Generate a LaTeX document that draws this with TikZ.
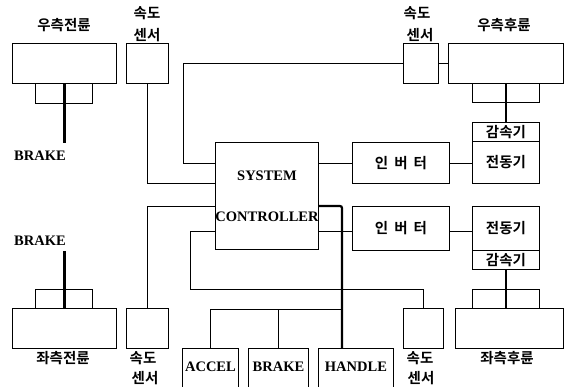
\documentclass[tikz,border=0pt]{standalone}
\usepackage{fontspec}
\setmainfont{Liberation Serif}
\newfontfamily\kr{Noto Sans CJK KR Black}
\usepackage{tikz}
\usetikzlibrary{positioning,calc}
\newcommand{\krt}[1]{{\kr\fontsize{14.5}{16}\selectfont #1}}

\begin{document}
\begin{tikzpicture}[
  x=1pt, y=-1pt,
  font=\bfseries\fontsize{14.5}{16}\selectfont,
  blk/.style={draw, line width=0.9pt, inner sep=0pt, anchor=north west},
  wire/.style={line width=0.9pt},
  shaft/.style={line width=2.6pt},
  lbl/.style={inner sep=0pt}
]
\clip (0,0) rectangle (569,387);
\fill[white] (0,0) rectangle (569,387);

% wheels, hubs, sensors
\node[blk, minimum width=57pt, minimum height=20pt] (hrf) at (35,83) {};
\node[blk, fill=white, minimum width=104pt, minimum height=40pt] (wrf) at (12,43) {};
\node[blk, minimum width=42pt, minimum height=40pt] (srf) at (126,43) {};
\node[blk, minimum width=57pt, minimum height=19pt] (hfl) at (35,289) {};
\node[blk, fill=white, minimum width=104pt, minimum height=40pt] (wfl) at (12,308) {};
\node[blk, minimum width=42pt, minimum height=40pt] (sfl) at (126,308) {};

\node[blk, minimum width=35pt, minimum height=40pt] (srr) at (403,43) {};
\node[blk, minimum width=67pt, minimum height=19pt] (hrr) at (472,83) {};
\node[blk, fill=white, minimum width=115pt, minimum height=40pt] (wrr) at (448,43) {};
\node[blk, minimum width=40pt, minimum height=40pt] (srl) at (403,308) {};
\node[blk, minimum width=67pt, minimum height=19pt] (hrl) at (472,289) {};
\node[blk, fill=white, minimum width=108pt, minimum height=40pt] (wrl) at (455,308) {};

% reducers and motors
\node[blk, minimum width=67pt, minimum height=19pt] (red1) at (472,122) {\krt{감속기}};
\node[blk, minimum width=67pt, minimum height=42pt] (mot1) at (472,141) {\krt{전동기}};
\node[blk, minimum width=67pt, minimum height=44pt] (mot2) at (472,206) {\krt{전동기}};
\node[blk, minimum width=67pt, minimum height=19pt] (red2) at (472,250) {\krt{감속기}};

% controller and inverters
\node[blk, minimum width=103pt, minimum height=107pt, align=center] (ctl) at (215,142) {SYSTEM\\[25pt]CONTROLLER};
\node[blk, minimum width=97pt, minimum height=41pt] (inv1) at (352,142) {\krt{인\hspace{6pt}버\hspace{6pt}터}};
\node[blk, minimum width=97pt, minimum height=44pt] (inv2) at (352,206) {\krt{인\hspace{6pt}버\hspace{6pt}터}};

% inputs
\node[blk, minimum width=56pt, minimum height=60pt] (accel) at (182,348) {};
\node[blk, minimum width=60pt, minimum height=60pt] (brk) at (248,348) {};
\node[blk, minimum width=75pt, minimum height=60pt] (hdl) at (318,348) {};
\node[lbl, anchor=north] at (accel.north) [yshift=-14pt] {ACCEL};
\node[lbl, anchor=north] at (brk.north) [yshift=-14pt] {BRAKE};
\node[lbl, anchor=north] at (hdl.north) [yshift=-14pt] {HANDLE};

% labels
\node[lbl] (tfl) at (64,25) {\krt{우측전륜}};
\node[lbl] at (147,13) {\krt{속도}};
\node[lbl] at (147,35) {\krt{센서}};
\node[lbl] at (417,13) {\krt{속도}};
\node[lbl] at (420,35) {\krt{센서}};
\node[lbl] at (504,25) {\krt{우측후륜}};
\node[lbl] at (63,358) {\krt{좌측전륜}};
\node[lbl] at (143,358) {\krt{속도}};
\node[lbl] at (145,378) {\krt{센서}};
\node[lbl] at (420,358) {\krt{속도}};
\node[lbl] at (421,378) {\krt{센서}};
\node[lbl] at (507,358) {\krt{좌측후륜}};
\node[lbl] (bkf) at (40,156) {BRAKE};
\node[lbl] (bkl) at (40,241) {BRAKE};

% shafts
\draw[shaft] (wrf.south) -- ++(0,59);
\draw[shaft] (wfl.north) -- ++(0,-57);
\draw[shaft] (wrr.south -| red1.north) -- (red1.north);
\draw[shaft] (red2.south) -- (red2.south |- wrl.north);

% wiring
\coordinate (n1) at (183,163);
\coordinate (n2) at (190,231);
\coordinate (bt) at (342,309);
\draw[wire] (srf.south) |- (ctl.west |- inv1.south);
\draw[wire] (srr.west) -| (n1) -- (ctl.west |- n1);
\draw[wire] (sfl.north) |- (ctl.west |- inv2.north);
\draw[wire] (srl.north) |- (n2 |- hrl.north) -- (n2) -- (ctl.west |- n2);
\draw[wire] (srr.east) -- (wrr.west |- srr.east);
\draw[wire] (ctl.east |- n1) -- (inv1.west |- n1);
\draw[wire] (ctl.east |- n2) -- (inv2.west |- n2);
\draw[wire] (inv1.east |- n1) -- (mot1.west |- n1);
\draw[wire] (inv2.east |- n2) -- (mot2.west |- n2);
\draw[shaft, line width=2.2pt, rounded corners=2pt] (ctl.east |- inv2.north) -| (bt) -- (bt |- hdl.north);
\draw[wire] (accel.north) |- (bt);
\draw[wire] (brk.north) -- (brk.north |- bt);
\end{tikzpicture}
\end{document}
